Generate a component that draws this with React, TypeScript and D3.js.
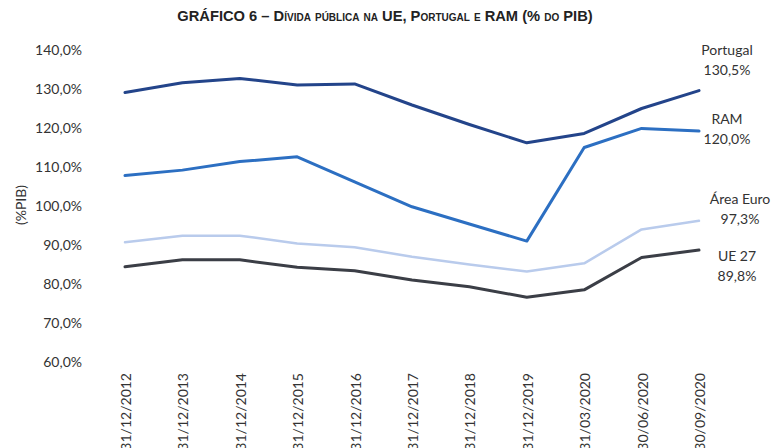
import React from 'react';
import * as d3 from 'd3';

// dates on the x axis
const dates = [
  '31/12/2012', '31/12/2013', '31/12/2014', '31/12/2015', '31/12/2016',
  '31/12/2017', '31/12/2018', '31/12/2019', '31/03/2020', '30/06/2020', '30/09/2020',
];

// % of GDP
const portugal = [129.1, 131.6, 132.7, 131.0, 131.3, 125.9, 120.9, 116.2, 118.6, 125.0, 129.6];
const ram = [107.8, 109.2, 111.4, 112.6, 106.2, 99.8, 95.4, 91.0, 115.0, 119.9, 119.2];
const areaEuro = [90.7, 92.4, 92.4, 90.4, 89.4, 87.0, 85.0, 83.2, 85.3, 94.0, 96.2];
const ue27 = [84.4, 86.2, 86.2, 84.3, 83.4, 81.0, 79.3, 76.6, 78.5, 86.8, 88.7];

const yTicks = [60, 70, 80, 90, 100, 110, 120, 130, 140];

const seriesNames = ['Portugal', 'RAM', 'Área Euro', 'UE 27'];
const endLabels = ['130,5%', '120,0%', '97,3%', '89,8%'];

const font = 'Lato, "Open Sans", sans-serif';

function App() {
  const width = 774;
  const height = 448;

  const x = d3.scalePoint<string>().domain(dates).range([125, 699]);
  const y = d3.scaleLinear().domain([60, 140]).range([362, 50]);

  const series = [
    { name: seriesNames[0], values: portugal, color: '#23448a', width: 3, label: endLabels[0], lx: 727, ly: 50 },
    { name: seriesNames[1], values: ram, color: '#2c6fc2', width: 3, label: endLabels[1], lx: 727, ly: 119 },
    { name: seriesNames[2], values: areaEuro, color: '#b9cbec', width: 2.5, label: endLabels[2], lx: 740, ly: 199 },
    { name: seriesNames[3], values: ue27, color: '#3b3e46', width: 3, label: endLabels[3], lx: 737, ly: 256 },
  ];

  const line = d3.line<number>()
    .x((_, i) => x(dates[i]) as number)
    .y(d => y(d));

  const fmt = (v: number) => v.toFixed(1).replace('.', ',') + '%';

  return (
    <svg width={width} height={height} style={{ position: 'absolute', left: 0, top: 0, background: '#fff' }}>
      <text x={385} y={21} textAnchor="middle" fontFamily='"Liberation Sans", Arial, sans-serif'
        fontWeight="bold" fontSize={14.7} fill="#222" style={{ fontVariant: 'small-caps' }}>
        GRÁFICO 6 – Dívida pública na UE, Portugal e RAM (% do PIB)
      </text>

      {/* y axis */}
      {yTicks.map(t => (
        <text key={t} x={82} y={y(t)} dy="0.35em" textAnchor="end" fontFamily={font} fontSize={14} fill="#333">
          {fmt(t)}
        </text>
      ))}
      <text transform={`translate(21,${205}) rotate(-90)`} textAnchor="middle" dy="0.35em"
        fontFamily={font} fontSize={14} fill="#333">(%PIB)</text>

      {/* x axis */}
      {dates.map(d => (
        <text key={d} transform={`translate(${(x(d) as number) + 1},${373}) rotate(-90)`} textAnchor="end"
          dy="0.35em" fontFamily={font} fontSize={14} fill="#333">{d}</text>
      ))}

      {/* lines */}
      {series.map(s => (
        <path key={s.name} d={line(s.values) || ''} fill="none" stroke={s.color}
          strokeWidth={s.width} strokeLinejoin="round" strokeLinecap="round" />
      ))}

      {/* end labels */}
      {series.map(s => (
        <g key={s.name + '-lbl'} fontFamily={font} fontSize={14} fill="#333" textAnchor="middle">
          <text x={s.lx} y={s.ly} dy="0.35em">{s.name}</text>
          <text x={s.lx} y={s.ly + 20.5} dy="0.35em">{s.label}</text>
        </g>
      ))}
    </svg>
  );
}

export default App;
